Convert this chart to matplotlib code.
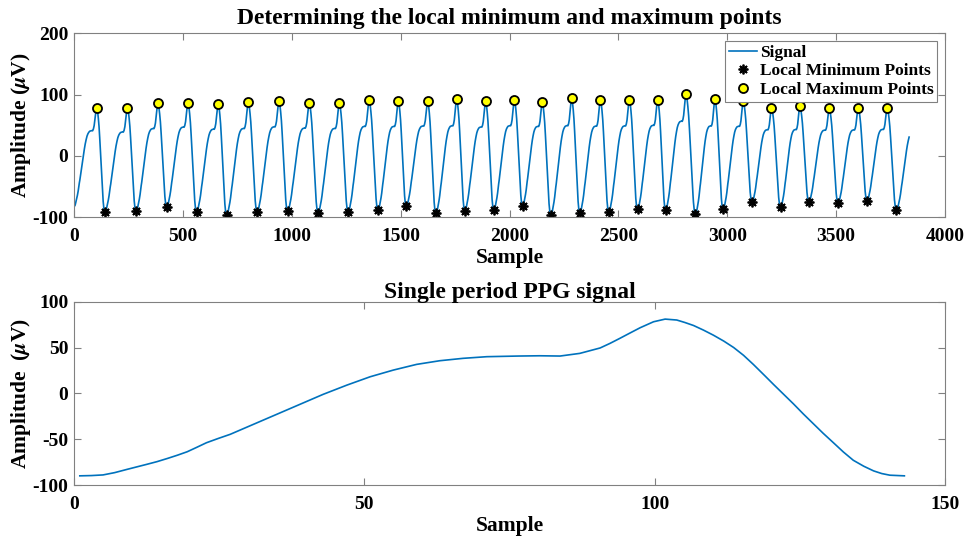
import numpy as np
import matplotlib

matplotlib.use("Agg")
import matplotlib.pyplot as plt

# single PPG period
period_x = [1.0, 3.0, 5.0, 7.0, 9.1, 12.5, 14.3, 16.1, 17.8, 19.5, 21.1, 22.8,
            24.8, 26.9, 30.9, 34.9, 38.9, 42.9, 47.0, 51.0, 55.0, 59.0, 63.0,
            67.0, 71.1, 76.5, 80.2, 83.7, 87.1, 90.6, 92.3, 94.0, 95.8, 97.5,
            99.8, 101.8, 103.8, 105.2, 106.7, 108.4, 110.1, 111.9, 113.6, 115.3,
            117.0, 119.0, 120.5, 122.2, 123.9, 125.6, 127.3, 129.0, 130.8,
            132.5, 134.2, 136.0, 137.7, 139.1, 140.5, 143.0]
period_y = [-90, -89.7, -89, -86.5, -83, -77.5, -74.5, -71, -67.5, -63.7, -59,
            -53.9, -49.3, -44.7, -33.8, -22.9, -12, -1.1, 9, 18.1, 25.4, 31.6,
            35.6, 38.2, 40, 40.7, 41, 40.7, 43.6, 49.5, 54.5, 60, 66, 71.6, 78.1,
            81, 80, 77.3, 74, 69, 63.5, 57, 50, 41.5, 31.5, 19, 9.5, -1, -11.5,
            -22.5, -33, -43.5, -54, -64, -73, -79.5, -84.6, -87.5, -89.3, -90]

# local maxima / minima of the full recording
max_x = [104, 245, 385, 523, 662, 800, 941, 1080, 1218, 1355, 1489, 1624, 1757,
         1890, 2022, 2150, 2285, 2417, 2550, 2680, 2810, 2943, 3073, 3203, 3333,
         3468, 3601, 3734]
max_y = [79, 79, 86, 87, 85, 88, 90, 87, 87, 91, 90, 89, 93, 89, 91.5, 88, 94,
         92, 92, 92, 101, 93, 90, 79, 82, 78, 79, 79]
min_x = [142, 285, 426, 563, 701, 841, 981, 1121, 1259, 1396, 1526, 1662, 1795,
         1928, 2060, 2190, 2323, 2456, 2588, 2717, 2854, 2981, 3114, 3245, 3375,
         3509, 3642, 3777]
min_y = [-91, -90, -83, -91, -96, -91, -90, -92.5, -91, -88, -82, -93.5, -89,
         -88, -81.5, -96, -92.5, -91, -87, -88, -94.6, -87, -75.5, -83.7, -75,
         -76.7, -73, -88]
start_pt = (0, -82)
end_x = 3838

# build the recording from the period shape fitted between each min and max
px = np.array(period_x)
py = np.array(period_y)
ipk = int(np.argmax(py))
lo, hi = py[0], py[ipk]

sig_x, sig_y = [], []
starts = [start_pt] + list(zip(min_x, min_y))
for k in range(len(max_x)):
    sx, sy = starts[k]
    mx, my = starts[k + 1]
    rx = px[:ipk + 1]
    ry = py[:ipk + 1]
    sig_x += list(sx + (rx - rx[0]) / (rx[-1] - rx[0]) * (max_x[k] - sx))
    sig_y += list(sy + (ry - lo) / (hi - lo) * (max_y[k] - sy))
    fx = px[ipk + 1:]
    fy = py[ipk + 1:]
    sig_x += list(max_x[k] + (fx - px[ipk]) / (px[-1] - px[ipk]) * (mx - max_x[k]))
    sig_y += list(my + (fy - lo) / (hi - lo) * (max_y[k] - my))
keep = px - px[0] <= end_x - min_x[-1]
sig_x += list(min_x[-1] + px[keep] - px[0])
sig_y += list(min_y[-1] + (py[keep] - lo) / (hi - lo) * (max_y[-1] - min_y[-1]))

plt.rcParams["font.family"] = "Liberation Serif"
plt.rcParams["font.weight"] = "bold"
plt.rcParams["mathtext.fontset"] = "stix"
plt.rcParams["axes.unicode_minus"] = False

blue = "#0072BD"
edge = "#808080"


def style_ax(ax):
    for spine in ax.spines.values():
        spine.set_color(edge)
        spine.set_linewidth(0.8)
    ax.tick_params(direction="in", length=5, width=0.8, color=edge,
                   labelsize=14, top=True, right=True)
    ax.tick_params(axis="x", pad=8)
    ax.tick_params(axis="y", pad=4)


fig = plt.figure(figsize=(9.79, 5.43), dpi=100)

ax = fig.add_axes([0.0756, 0.5998, 0.8897, 0.3389])
ax.plot(sig_x, sig_y, color=blue, lw=1.2, label="Signal")
ax.plot(min_x, min_y, ls="none", marker=(8, 2, 0), ms=7, mew=1.3, color="black",
        label="Local Minimum Points")
ax.plot(max_x, max_y, ls="none", marker="o", ms=6.5, mfc="#FFFF00", mec="black",
        mew=1.3, label="Local Maximum Points")
ax.set_xlim(0, 4000)
ax.set_ylim(-100, 200)
ax.set_xticks(np.arange(0, 4001, 500))
ax.set_yticks([-100, 0, 100, 200])
ax.set_title("Determining the local minimum and maximum points", fontsize=17,
             fontweight="bold", pad=7)
ax.set_xlabel("Sample", fontsize=15.5, fontweight="bold", labelpad=2)
ax.set_ylabel(r"Amplitude ($\mu$V)", fontsize=15.5, fontweight="bold", labelpad=0)
style_ax(ax)
leg = ax.legend(loc="upper right", fontsize=12.5, handlelength=1.6,
                handletextpad=0.2, borderpad=0.2, labelspacing=0.15,
                borderaxespad=0.45, fancybox=False, framealpha=1)
leg.get_frame().set_edgecolor(edge)
leg.get_frame().set_linewidth(0.8)

ax = fig.add_axes([0.0756, 0.1068, 0.8897, 0.3376])
ax.plot(period_x, period_y, color=blue, lw=1.2)
ax.set_xlim(0, 150)
ax.set_ylim(-100, 100)
ax.set_xticks([0, 50, 100, 150])
ax.set_yticks([-100, -50, 0, 50, 100])
ax.set_title("Single period PPG signal", fontsize=17, fontweight="bold", pad=3)
ax.set_xlabel("Sample", fontsize=15.5, fontweight="bold", labelpad=2)
ax.set_ylabel(r"Amplitude  ($\mu$V)", fontsize=15.5, fontweight="bold", labelpad=0)
style_ax(ax)

fig.savefig("out.png", dpi=100)
